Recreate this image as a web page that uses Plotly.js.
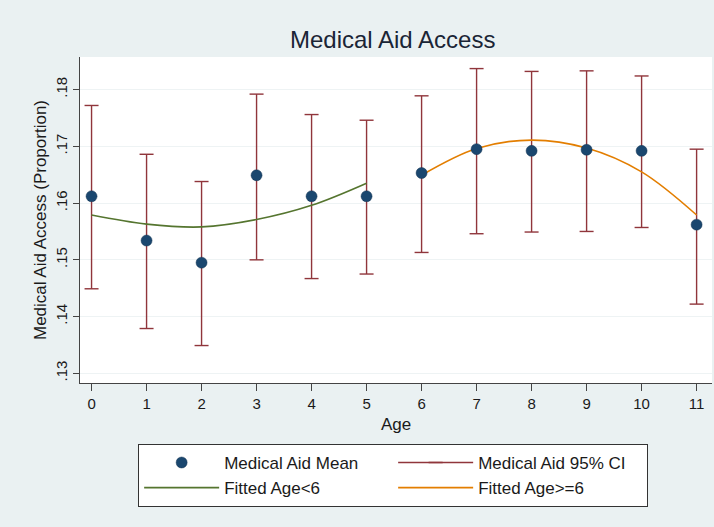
<!DOCTYPE html>
<html>
<head>
<meta charset="utf-8">
<script src="https://cdn.plot.ly/plotly-3.0.1.min.js"></script>
<style>
  html, body { margin: 0; padding: 0; background: #eaf1f2; }
  #chart { width: 714px; height: 527px; }
</style>
</head>
<body>
<div id="chart"></div>
<script>
// Ages 0..11 with mean medical aid access and 95% confidence limits
const ages = [0, 1, 2, 3, 4, 5, 6, 7, 8, 9, 10, 11];
const meanAccess = [0.1612, 0.1534, 0.1495, 0.1649, 0.1612, 0.1612,
                    0.1653, 0.1695, 0.1692, 0.1694, 0.1692, 0.1562];
const ciLow  = [0.1449, 0.1379, 0.1349, 0.1500, 0.1467, 0.1475,
                0.1513, 0.1546, 0.1549, 0.1550, 0.1557, 0.1422];
const ciHigh = [0.1772, 0.1686, 0.1638, 0.1792, 0.1756, 0.1746,
                0.1789, 0.1837, 0.1832, 0.1833, 0.1824, 0.1695];

// Fitted quadratic curves, evaluated at each age
const fitYoungAges = [0, 1, 2, 3, 4, 5];
const fitYoung = [0.1579, 0.1563, 0.1558, 0.1571, 0.1596, 0.1635];
const fitOldAges = [6, 7, 8, 9, 10, 11];
const fitOld = [0.1649, 0.1696, 0.1711, 0.1697, 0.1655, 0.1579];

const yTickVals = [0.13, 0.14, 0.15, 0.16, 0.17, 0.18];
const yTickText = ['.13', '.14', '.15', '.16', '.17', '.18'];

// CI whiskers as vertical segments, broken by nulls
const ciX = [], ciY = [];
ages.forEach((a, i) => {
  ciX.push(a, a, null);
  ciY.push(ciLow[i], ciHigh[i], null);
});

const navy = '#1a476f';
const maroon = '#90353b';
const green = '#55752f';
const orange = '#e37e00';
const font = 'Liberation Sans, Arial, Helvetica, sans-serif';

const meanTrace = {
  x: ages, y: meanAccess, type: 'scatter', mode: 'markers',
  name: 'Medical Aid Mean', legendrank: 1,
  marker: { color: navy, size: 11, line: { color: '#123250', width: 0.5 } },
  cliponaxis: false
};
const ciTrace = {
  x: ciX, y: ciY, type: 'scatter', mode: 'lines+markers',
  name: 'Medical Aid 95% CI', legendrank: 2,
  line: { color: maroon, width: 1.4 },
  marker: { symbol: 'line-ew', size: 10, color: maroon, line: { color: maroon, width: 1.4 } },
  connectgaps: false, cliponaxis: false
};
const fitYoungTrace = {
  x: fitYoungAges, y: fitYoung, type: 'scatter', mode: 'lines',
  name: 'Fitted Age<6', legendrank: 3,
  line: { color: green, width: 1.6, shape: 'spline' }
};
const fitOldTrace = {
  x: fitOldAges, y: fitOld, type: 'scatter', mode: 'lines',
  name: 'Fitted Age>=6', legendrank: 4,
  line: { color: orange, width: 1.6, shape: 'spline' }
};

// Whiskers and curves first so the mean markers sit on top
const traces = [ciTrace, fitYoungTrace, fitOldTrace, meanTrace];

const layout = {
  width: 714, height: 527,
  paper_bgcolor: '#eaf1f2',
  plot_bgcolor: '#ffffff',
  margin: { l: 80, r: 2, t: 57, b: 144, autoexpand: false },
  font: { family: font, size: 15, color: '#1a1a1a' },
  title: {
    text: 'Medical Aid Access',
    font: { family: font, size: 24, color: '#1a2536' },
    x: 0.55, xanchor: 'center',
    y: 1 - 40 / 527, yanchor: 'middle', yref: 'container'
  },
  xaxis: {
    range: [-0.21, 11.28],
    tickvals: ages,
    ticks: 'outside', ticklen: 7, tickwidth: 1, tickcolor: '#444',
    showline: true, linecolor: '#444', linewidth: 1.2,
    showgrid: false, zeroline: false,
    tickfont: { size: 15 },
    title: { text: 'Age', font: { size: 17 }, standoff: 6 }
  },
  yaxis: {
    range: [0.1283, 0.18574],
    tickvals: yTickVals, ticktext: yTickText,
    tickangle: -90,
    ticks: 'outside', ticklen: 6, tickwidth: 1, tickcolor: '#444',
    showline: true, linecolor: '#444', linewidth: 1.2,
    showgrid: true, gridcolor: '#eef3f4', gridwidth: 1,
    zeroline: false,
    tickfont: { size: 15 },
    title: { text: 'Medical Aid Access (Proportion)', font: { size: 17 }, standoff: 1 }
  },
  legend: {
    orientation: 'h',
    x: 0.092, xanchor: 'left',
    y: -0.187, yanchor: 'top',
    bgcolor: '#ffffff', bordercolor: '#333', borderwidth: 1,
    entrywidth: 164, entrywidthmode: 'pixels',
    itemwidth: 75,
    traceorder: 'normal',
    font: { size: 17 }
  },
  showlegend: true
};

Plotly.newPlot('chart', traces, layout, { displayModeBar: false, staticPlot: true });
</script>
</body>
</html>
